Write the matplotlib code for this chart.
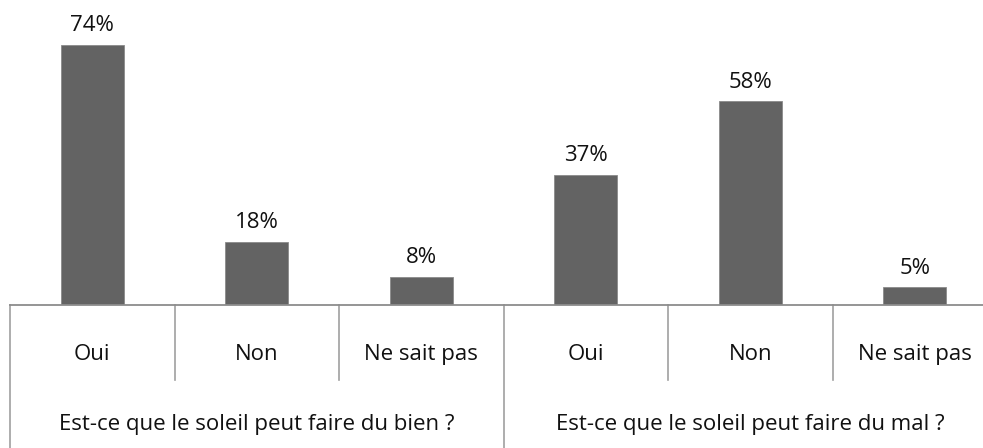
import matplotlib
matplotlib.use("Agg")
import matplotlib.pyplot as plt
from matplotlib.transforms import blended_transform_factory

categories = ["Oui", "Non", "Ne sait pas", "Oui", "Non", "Ne sait pas"]
values = [74, 18, 8, 37, 58, 5]
groups = ["Est-ce que le soleil peut faire du bien ?", "Est-ce que le soleil peut faire du mal ?"]
group_size = 3

plt.rcParams['font.family'] = ['Open Sans', 'DejaVu Sans']

W, H = 983, 448
fig = plt.figure(figsize=(W / 100, H / 100), dpi=100)
base_y = 305
left_px = 10
cat_w = 164.5
ax = fig.add_axes([left_px / W, (H - base_y) / H, cat_w * 6 / W, base_y / H])

x = list(range(len(values)))
bar_color = "#636363"
ax.bar(x, values, width=0.385, color=bar_color, edgecolor="#8a8a8a", linewidth=0.6, zorder=2)
ymax = base_y / 3.51
ax.set_ylim(0, ymax)
ax.set_xlim(-0.5, len(values) - 0.5)

fs = 16
txt_col = "#111111"
for xi, v in zip(x, values):
    ax.annotate(f"{v}%", (xi, v), xytext=(0, 10), textcoords="offset points",
                ha="center", va="baseline", fontsize=fs, color=txt_col)

for s in ["top", "right", "left"]:
    ax.spines[s].set_visible(False)
ax.spines["bottom"].set_color("#8c8c8c")
ax.spines["bottom"].set_linewidth(1.3)
ax.set_xticks([])
ax.set_yticks([])

tr = blended_transform_factory(ax.transData, ax.transAxes)
short_y = -75 / base_y
long_y = -(H - base_y + 5) / base_y
line_col = "#a0a0a0"
for k in range(len(values) + 1):
    xb = k - 0.5
    yb = long_y if k % group_size == 0 else short_y
    ax.plot([xb, xb], [0, yb], transform=tr, color=line_col, lw=1.2, clip_on=False)

lab_y = -55 / base_y
for xi, c in zip(x, categories):
    ax.text(xi, lab_y, c, transform=tr, ha="center", va="baseline", fontsize=fs, color=txt_col)

grp_y = -125 / base_y
for gi, g in enumerate(groups):
    xc = gi * group_size + (group_size - 1) / 2
    ax.text(xc, grp_y, g, transform=tr, ha="center", va="baseline", fontsize=fs, color=txt_col)

fig.savefig("out.png", dpi=100)
